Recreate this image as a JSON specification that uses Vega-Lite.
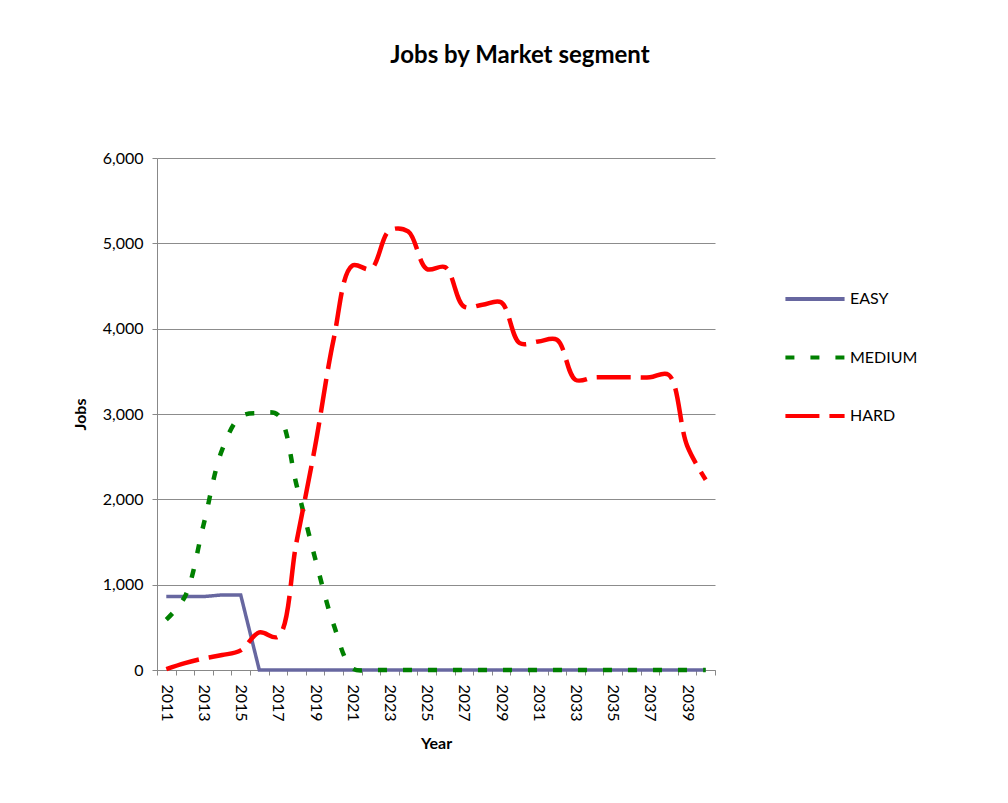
{
  "$schema": "https://vega.github.io/schema/vega-lite/v6.json",
  "autosize": {"type": "none"},
  "width": 558,
  "height": 512,
  "padding": {"left": 157, "top": 158, "right": 293, "bottom": 133},
  "background": "white",
  "config": {
    "view": {"stroke": null},
    "font": "Lato"
  },
  "title": {
    "text": "Jobs by Market segment",
    "font": "Lato",
    "fontSize": 24,
    "fontWeight": "bold",
    "color": "black",
    "anchor": "middle",
    "frame": "group",
    "dx": 84,
    "baseline": "alphabetic",
    "offset": 63
  },
  "data": {
    "values": [
      {"year": 2011, "series": "EASY", "jobs": 860},
      {"year": 2012, "series": "EASY", "jobs": 860},
      {"year": 2013, "series": "EASY", "jobs": 860},
      {"year": 2014, "series": "EASY", "jobs": 880},
      {"year": 2015, "series": "EASY", "jobs": 880},
      {"year": 2016, "series": "EASY", "jobs": 0},
      {"year": 2017, "series": "EASY", "jobs": 0},
      {"year": 2018, "series": "EASY", "jobs": 0},
      {"year": 2019, "series": "EASY", "jobs": 0},
      {"year": 2020, "series": "EASY", "jobs": 0},
      {"year": 2021, "series": "EASY", "jobs": 0},
      {"year": 2022, "series": "EASY", "jobs": 0},
      {"year": 2023, "series": "EASY", "jobs": 0},
      {"year": 2024, "series": "EASY", "jobs": 0},
      {"year": 2025, "series": "EASY", "jobs": 0},
      {"year": 2026, "series": "EASY", "jobs": 0},
      {"year": 2027, "series": "EASY", "jobs": 0},
      {"year": 2028, "series": "EASY", "jobs": 0},
      {"year": 2029, "series": "EASY", "jobs": 0},
      {"year": 2030, "series": "EASY", "jobs": 0},
      {"year": 2031, "series": "EASY", "jobs": 0},
      {"year": 2032, "series": "EASY", "jobs": 0},
      {"year": 2033, "series": "EASY", "jobs": 0},
      {"year": 2034, "series": "EASY", "jobs": 0},
      {"year": 2035, "series": "EASY", "jobs": 0},
      {"year": 2036, "series": "EASY", "jobs": 0},
      {"year": 2037, "series": "EASY", "jobs": 0},
      {"year": 2038, "series": "EASY", "jobs": 0},
      {"year": 2039, "series": "EASY", "jobs": 0},
      {"year": 2040, "series": "EASY", "jobs": 0},
      {"year": 2011, "series": "MEDIUM", "jobs": 590},
      {"year": 2012, "series": "MEDIUM", "jobs": 860},
      {"year": 2013, "series": "MEDIUM", "jobs": 1700},
      {"year": 2014, "series": "MEDIUM", "jobs": 2580},
      {"year": 2015, "series": "MEDIUM", "jobs": 2970},
      {"year": 2016, "series": "MEDIUM", "jobs": 3010},
      {"year": 2017, "series": "MEDIUM", "jobs": 2990},
      {"year": 2018, "series": "MEDIUM", "jobs": 2170},
      {"year": 2019, "series": "MEDIUM", "jobs": 1310},
      {"year": 2020, "series": "MEDIUM", "jobs": 530},
      {"year": 2021, "series": "MEDIUM", "jobs": 20},
      {"year": 2022, "series": "MEDIUM", "jobs": 0},
      {"year": 2023, "series": "MEDIUM", "jobs": 0},
      {"year": 2024, "series": "MEDIUM", "jobs": 0},
      {"year": 2025, "series": "MEDIUM", "jobs": 0},
      {"year": 2026, "series": "MEDIUM", "jobs": 0},
      {"year": 2027, "series": "MEDIUM", "jobs": 0},
      {"year": 2028, "series": "MEDIUM", "jobs": 0},
      {"year": 2029, "series": "MEDIUM", "jobs": 0},
      {"year": 2030, "series": "MEDIUM", "jobs": 0},
      {"year": 2031, "series": "MEDIUM", "jobs": 0},
      {"year": 2032, "series": "MEDIUM", "jobs": 0},
      {"year": 2033, "series": "MEDIUM", "jobs": 0},
      {"year": 2034, "series": "MEDIUM", "jobs": 0},
      {"year": 2035, "series": "MEDIUM", "jobs": 0},
      {"year": 2036, "series": "MEDIUM", "jobs": 0},
      {"year": 2037, "series": "MEDIUM", "jobs": 0},
      {"year": 2038, "series": "MEDIUM", "jobs": 0},
      {"year": 2039, "series": "MEDIUM", "jobs": 0},
      {"year": 2040, "series": "MEDIUM", "jobs": 0},
      {"year": 2011, "series": "HARD", "jobs": 10},
      {"year": 2012, "series": "HARD", "jobs": 80},
      {"year": 2013, "series": "HARD", "jobs": 135},
      {"year": 2014, "series": "HARD", "jobs": 175},
      {"year": 2015, "series": "HARD", "jobs": 230},
      {"year": 2016, "series": "HARD", "jobs": 440},
      {"year": 2017, "series": "HARD", "jobs": 390},
      {"year": 2018, "series": "HARD", "jobs": 1500},
      {"year": 2019, "series": "HARD", "jobs": 2620},
      {"year": 2020, "series": "HARD", "jobs": 3880},
      {"year": 2021, "series": "HARD", "jobs": 4740},
      {"year": 2022, "series": "HARD", "jobs": 4700},
      {"year": 2023, "series": "HARD", "jobs": 5150},
      {"year": 2024, "series": "HARD", "jobs": 5140},
      {"year": 2025, "series": "HARD", "jobs": 4700},
      {"year": 2026, "series": "HARD", "jobs": 4720},
      {"year": 2027, "series": "HARD", "jobs": 4260},
      {"year": 2028, "series": "HARD", "jobs": 4280},
      {"year": 2029, "series": "HARD", "jobs": 4310},
      {"year": 2030, "series": "HARD", "jobs": 3830},
      {"year": 2031, "series": "HARD", "jobs": 3850},
      {"year": 2032, "series": "HARD", "jobs": 3870},
      {"year": 2033, "series": "HARD", "jobs": 3400},
      {"year": 2034, "series": "HARD", "jobs": 3430},
      {"year": 2035, "series": "HARD", "jobs": 3430},
      {"year": 2036, "series": "HARD", "jobs": 3430},
      {"year": 2037, "series": "HARD", "jobs": 3430},
      {"year": 2038, "series": "HARD", "jobs": 3460},
      {"year": 2039, "series": "HARD", "jobs": 2630},
      {"year": 2040, "series": "HARD", "jobs": 2230}
    ]
  },
  "encoding": {
    "x": {
      "field": "year",
      "type": "ordinal",
      "bandPosition": 0.5,
      "scale": {"type": "band", "paddingInner": 0, "paddingOuter": 0},
      "axis": {
        "title": "Year",
        "titleFont": "Lato",
        "titleFontSize": 16,
        "titleFontWeight": "bold",
        "titleColor": "black",
        "titlePadding": 14,
        "labelFont": "Lato",
        "labelFontSize": 16,
        "labelColor": "black",
        "labelAngle": 90,
        "labelPadding": 9,
        "labelOverlap": false,
        "labelExpr": "datum.value % 2 == 1 ? datum.label : ''",
        "tickBand": "extent",
        "tickSize": 5,
        "tickColor": "#888888",
        "domainColor": "#888888",
        "grid": false
      }
    },
    "y": {
      "field": "jobs",
      "type": "quantitative",
      "scale": {"domain": [0, 6000], "nice": false},
      "axis": {
        "title": "Jobs",
        "titleFont": "Lato",
        "titleFontSize": 16,
        "titleFontWeight": "bold",
        "titleColor": "black",
        "titlePadding": 14,
        "labelFont": "Lato",
        "labelFontSize": 16,
        "labelColor": "black",
        "labelPadding": 9,
        "values": [0, 1000, 2000, 3000, 4000, 5000, 6000],
        "format": ",d",
        "tickSize": 5,
        "tickColor": "#888888",
        "domainColor": "#888888",
        "grid": true,
        "gridColor": "#8c8c8c",
        "gridWidth": 1
      }
    },
    "color": {
      "field": "series",
      "type": "nominal",
      "scale": {"domain": ["EASY", "MEDIUM", "HARD"], "range": ["#6767a0", "#008000", "#ff0000"]},
      "legend": {
        "title": null,
        "orient": "none",
        "legendX": 626,
        "legendY": 109,
        "symbolType": "stroke",
        "symbolSize": 3500,
        "symbolStrokeWidth": 4,
        "labelFont": "Lato",
        "labelFontSize": 16,
        "labelColor": "black",
        "labelOffset": 3,
        "rowPadding": 18.5
      }
    },
    "strokeDash": {
      "field": "series",
      "type": "nominal",
      "scale": {"domain": ["EASY", "MEDIUM", "HARD"], "range": [[1, 0], [9, 16], [34, 10]]},
      "legend": {
        "title": null,
        "orient": "none",
        "legendX": 626,
        "legendY": 109,
        "symbolType": "stroke",
        "symbolSize": 3500,
        "symbolStrokeWidth": 4,
        "labelFont": "Lato",
        "labelFontSize": 16,
        "labelColor": "black",
        "labelOffset": 3,
        "rowPadding": 18.5
      }
    }
  },
  "layer": [
    {
      "transform": [{"filter": "datum.series == 'EASY'"}],
      "mark": {"type": "line", "strokeWidth": 3.5, "interpolate": "linear"}
    },
    {
      "transform": [{"filter": "datum.series == 'MEDIUM'"}],
      "mark": {"type": "line", "strokeWidth": 4.5, "interpolate": "catmull-rom"}
    },
    {
      "transform": [{"filter": "datum.series == 'HARD'"}],
      "mark": {"type": "line", "strokeWidth": 4.5, "interpolate": "catmull-rom"}
    }
  ]
}
